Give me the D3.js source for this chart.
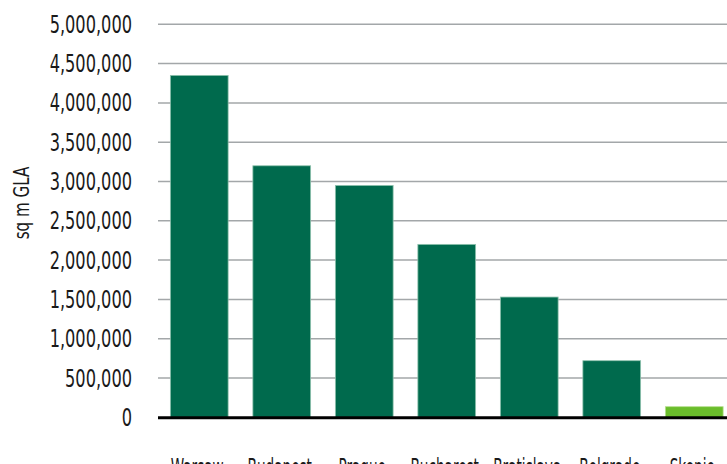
<!DOCTYPE html>
<html><head><meta charset="utf-8">
<script src="https://cdn.jsdelivr.net/npm/d3@7"></script>
<style>
html,body{margin:0;padding:0;background:#fff;overflow:hidden}
text{font-family:"Liberation Sans Narrow","DejaVu Sans Condensed",sans-serif;fill:#1a1a1a}
</style></head>
<body><svg id="c" width="727" height="464"></svg>
<script>
const categories = ["Warsaw","Budapest","Prague","Bucharest","Bratislava","Belgrade","Skopje"];
const values = [4350000, 3200000, 2950000, 2200000, 1530000, 720000, 135000];
const highlight = ["Skopje"];
const yTicks = [0,500000,1000000,1500000,2000000,2500000,3000000,3500000,4000000,4500000,5000000];
const yLabel = "sq m GLA";

const svg = d3.select("#c");
const x0 = 158, yTop = 24.3, yBase = 417.3;
const x = d3.scaleBand().domain(categories).range([x0, x0 + 82.5*7]).paddingInner(0.3).paddingOuter(0.15);
const y = d3.scaleLinear().domain([0, 5000000]).range([yBase, yTop]);
const fmt = d3.format(",");
const sx = 0.75;

// gridlines
svg.append("g").selectAll("line").data(yTicks.filter(d=>d>0)).join("line")
  .attr("x1", x0).attr("x2", 727).attr("y1", d=>y(d)).attr("y2", d=>y(d))
  .attr("stroke", "#a3a7a9").attr("stroke-width", 1.5);

// tick labels
svg.append("g").selectAll("text").data(yTicks).join("text")
  .attr("transform", d=>`translate(132,${y(d)+8.5}) scale(${sx},1)`)
  .attr("text-anchor","end").attr("font-size", 24).text(d=>fmt(d));

// bars
svg.append("g").selectAll("rect").data(categories).join("rect")
  .attr("x", d=>x(d)).attr("width", x.bandwidth())
  .attr("y", (d,i)=>y(values[i])).attr("height", (d,i)=>yBase - y(values[i]))
  .attr("fill", d=>highlight.includes(d) ? "#6abd2b" : "#006a4d")
  .attr("stroke", d=>highlight.includes(d) ? "#b5df8f" : "#8fc2ae").attr("stroke-width", 0.8);

// baseline
svg.append("line").attr("x1", x0).attr("x2", 727).attr("y1", yBase+0.5).attr("y2", yBase+0.5)
  .attr("stroke", "#000").attr("stroke-width", 3);

// category labels
svg.append("g").selectAll("text").data(categories).join("text")
  .attr("transform", d=>`translate(${x(d)+x.bandwidth()/2-2},${476}) scale(0.63,1)`)
  .attr("text-anchor","middle").attr("font-size", 24).text(d=>d);

// y label
svg.append("text").attr("transform","translate(29,203) rotate(-90) scale(0.8,1)")
  .attr("text-anchor","middle").attr("font-size", 21).text(yLabel);
</script></body></html>
